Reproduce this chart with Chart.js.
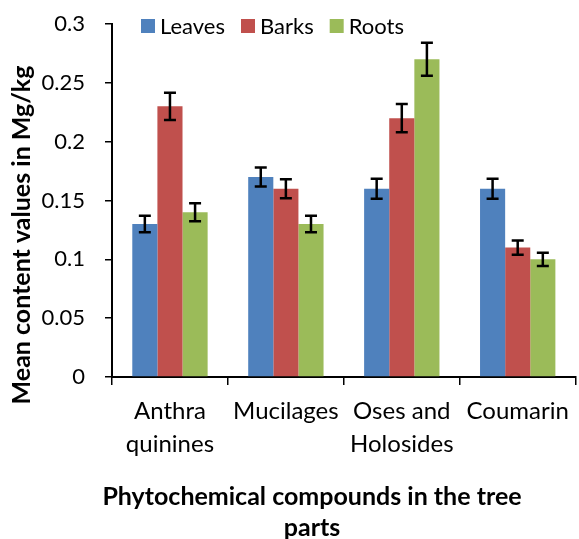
<!DOCTYPE html>
<html>
<head>
<meta charset="utf-8">
<script src="https://cdn.jsdelivr.net/npm/chart.js@4"></script>
<style>
  body { margin: 0; background: #fff; }
  #wrap { width: 579px; height: 539px; }
</style>
</head>
<body>
<div id="wrap"><canvas id="chart"></canvas></div>
<script>
const categories = [["Anthra", "quinines"], "Mucilages", ["Oses and", "Holosides"], "Coumarin"];
const leaves = [0.13, 0.17, 0.16, 0.16];
const barks = [0.23, 0.16, 0.22, 0.11];
const roots = [0.14, 0.13, 0.27, 0.10];
const leavesErr = [0.007, 0.008, 0.0085, 0.0085];
const barksErr = [0.0115, 0.008, 0.012, 0.006];
const rootsErr = [0.0077, 0.007, 0.014, 0.0057];
const yTitle = "Mean content values in Mg/kg";
const xTitle = ["Phytochemical compounds in the tree", "parts"];

const FONT = "Lato, 'Open Sans', sans-serif";

// error bars drawn from the y scale
const errorBars = {
  id: "errorBars",
  afterDatasetsDraw(chart) {
    const ctx = chart.ctx;
    const y = chart.scales.y;
    ctx.save();
    ctx.strokeStyle = "#000";
    ctx.lineWidth = 2.5;
    chart.data.datasets.forEach((ds, i) => {
      const meta = chart.getDatasetMeta(i);
      meta.data.forEach((bar, j) => {
        const v = ds.data[j], e = ds.errors[j];
        const top = y.getPixelForValue(v + e);
        const bot = y.getPixelForValue(v - e);
        ctx.beginPath();
        ctx.moveTo(bar.x, top); ctx.lineTo(bar.x, bot);
        ctx.moveTo(bar.x - 6, top); ctx.lineTo(bar.x + 6, top);
        ctx.moveTo(bar.x - 6, bot); ctx.lineTo(bar.x + 6, bot);
        ctx.stroke();
      });
    });
    ctx.restore();
  }
};

// legend overlapping the top of the plot + axis titles placed like the original
const decorations = {
  id: "decorations",
  afterDraw(chart) {
    const ctx = chart.ctx;
    ctx.save();
    ctx.font = "22px " + FONT;
    ctx.textBaseline = "middle";
    let x = 141;
    const yMid = 26;
    chart.data.datasets.forEach(ds => {
      ctx.fillStyle = ds.backgroundColor;
      ctx.fillRect(x, yMid - 7, 14, 14);
      x += 19;
      ctx.fillStyle = "#000";
      ctx.fillText(ds.label, x, yMid + 1);
      x += ctx.measureText(ds.label).width + 16;
    });

    ctx.font = "bold 25px " + FONT;
    ctx.textAlign = "center";
    ctx.fillText(xTitle[0], 312, 497);
    ctx.fillText(xTitle[1], 312, 528);

    ctx.translate(22, 235);
    ctx.rotate(-Math.PI / 2);
    ctx.fillText(yTitle, 0, 0);
    ctx.restore();
  }
};

new Chart(document.getElementById("chart"), {
  type: "bar",
  data: {
    labels: categories,
    datasets: [
      { label: "Leaves", data: leaves, errors: leavesErr, backgroundColor: "#4F81BD" },
      { label: "Barks", data: barks, errors: barksErr, backgroundColor: "#C0504D" },
      { label: "Roots", data: roots, errors: rootsErr, backgroundColor: "#9BBB59" }
    ]
  },
  options: {
    responsive: true,
    maintainAspectRatio: false,
    animation: false,
    layout: { padding: { top: 24, right: 1, left: 4, bottom: 4 } },
    plugins: { legend: { display: false }, tooltip: { enabled: false } },
    datasets: { bar: { categoryPercentage: 0.65, barPercentage: 1, borderWidth: 0 } },
    scales: {
      x: {
        grid: { offset: true, drawOnChartArea: false, color: "#000", lineWidth: 1.5, tickLength: 8 },
        border: { color: "#000", width: 2 },
        ticks: { color: "#000", font: { family: FONT, size: 24, lineHeight: 1.375 }, padding: 10, maxRotation: 0, autoSkip: false },
        afterFit: s => { s.height = 158; }
      },
      y: {
        min: 0, max: 0.3,
        ticks: {
          stepSize: 0.05, color: "#000", font: { family: FONT, size: 22 }, padding: 20,
          callback: v => +v.toFixed(2)
        },
        grid: { drawOnChartArea: false, color: "#000", lineWidth: 1.5, tickLength: 7 },
        border: { color: "#000", width: 2 },
        afterFit: s => { s.width = 108; s.paddingTop = 0; s.paddingBottom = 0; }
      }
    }
  },
  plugins: [errorBars, decorations]
});
</script>
</body>
</html>
